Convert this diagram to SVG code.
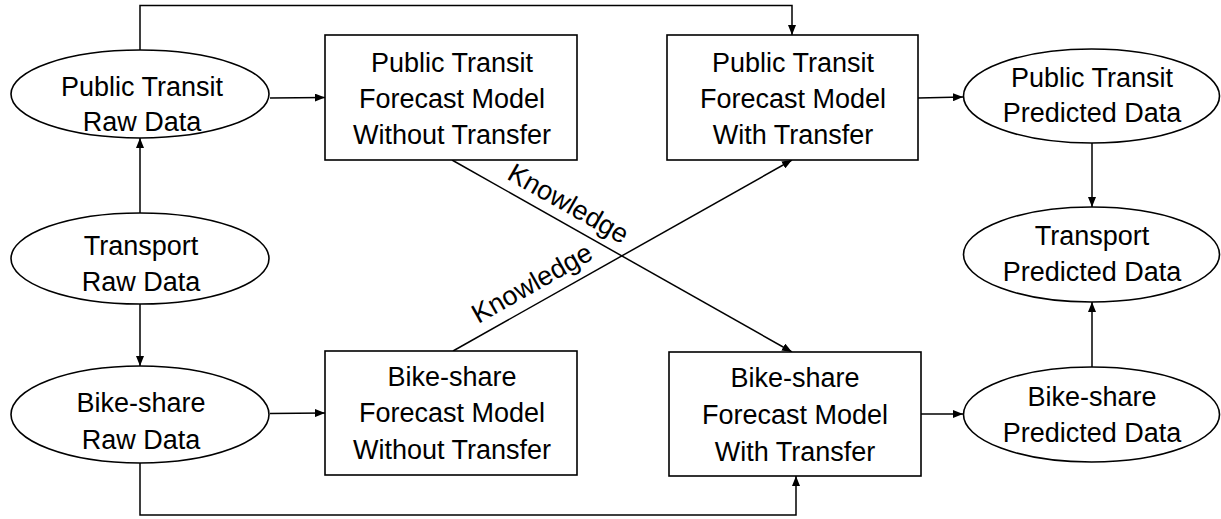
<svg xmlns="http://www.w3.org/2000/svg" width="1221" height="519" viewBox="0 0 1221 519">
<style>
  .node rect, .node ellipse { fill: #fff; stroke: #000; stroke-width: 1.6; }
  .node text, .label { font-family: "Liberation Sans", Arial, sans-serif; font-size: 27px; fill: #000; text-anchor: middle; }
  .conn line, .conn polyline { fill: none; stroke: #000; stroke-width: 1.5; }
  .arrow { marker-end: url(#ah); }
</style>
<defs>
  <marker id="ah" markerUnits="userSpaceOnUse" markerWidth="10" markerHeight="8" viewBox="0 0 10 8" refX="10" refY="4" orient="auto">
    <path d="M0,0 L10,4 L0,8 z" fill="#000"/>
  </marker>
</defs>
<rect width="1221" height="519" fill="#fff"/>

<g id="connectors" class="conn">
  <line class="arrow" x1="270" y1="98" x2="325" y2="97.5"/>
  <line class="arrow" x1="140" y1="213" x2="140" y2="138"/>
  <line class="arrow" x1="140" y1="304" x2="140" y2="366"/>
  <line class="arrow" x1="270" y1="413.5" x2="325" y2="413"/>
  <polyline class="arrow" points="140,50 140,5.5 792,5.5 792,35"/>
  <polyline class="arrow" points="140,463 140,515 796,515 796,476"/>
  <line class="arrow" x1="452" y1="160" x2="792" y2="352"/>
  <line class="arrow" x1="453" y1="351" x2="792" y2="160"/>
  <line class="arrow" x1="918" y1="98" x2="963" y2="97"/>
  <line class="arrow" x1="921" y1="414" x2="963" y2="414"/>
  <line class="arrow" x1="1092" y1="143" x2="1092" y2="207"/>
  <line class="arrow" x1="1092" y1="367" x2="1092" y2="302"/>
  <text class="label" transform="translate(564,211.5) rotate(29.5)">Knowledge</text>
  <text class="label" transform="translate(536.5,291) rotate(-29.5)">Knowledge</text>
</g>

<g id="pt-raw" class="node">
  <ellipse cx="140" cy="94" rx="129" ry="44"/>
  <text x="142" y="96">Public Transit</text>
  <text x="142" y="131">Raw Data</text>
</g>
<g id="transport-raw" class="node">
  <ellipse cx="140" cy="258.5" rx="129" ry="45.5"/>
  <text x="141" y="255">Transport</text>
  <text x="141" y="291">Raw Data</text>
</g>
<g id="bs-raw" class="node">
  <ellipse cx="140" cy="414.5" rx="129" ry="48.5"/>
  <text x="141" y="412">Bike-share</text>
  <text x="141" y="449">Raw Data</text>
</g>

<g id="pt-without" class="node">
  <rect x="325" y="35" width="252" height="125"/>
  <text x="452" y="72">Public Transit</text>
  <text x="452" y="108">Forecast Model</text>
  <text x="452" y="144">Without Transfer</text>
</g>
<g id="bs-without" class="node">
  <rect x="325" y="351" width="252" height="124"/>
  <text x="452" y="386">Bike-share</text>
  <text x="452" y="422">Forecast Model</text>
  <text x="452" y="459">Without Transfer</text>
</g>
<g id="pt-with" class="node">
  <rect x="667" y="35" width="251" height="125"/>
  <text x="793" y="72">Public Transit</text>
  <text x="793" y="108">Forecast Model</text>
  <text x="793" y="144">With Transfer</text>
</g>
<g id="bs-with" class="node">
  <rect x="669" y="352" width="252" height="124"/>
  <text x="795" y="387">Bike-share</text>
  <text x="795" y="424">Forecast Model</text>
  <text x="795" y="461">With Transfer</text>
</g>

<g id="pt-pred" class="node">
  <ellipse cx="1091.5" cy="96" rx="128" ry="47"/>
  <text x="1092" y="87">Public Transit</text>
  <text x="1092" y="122">Predicted Data</text>
</g>
<g id="transport-pred" class="node">
  <ellipse cx="1091.5" cy="254.5" rx="128" ry="47.5"/>
  <text x="1092" y="245">Transport</text>
  <text x="1092" y="281">Predicted Data</text>
</g>
<g id="bs-pred" class="node">
  <ellipse cx="1091.5" cy="414.5" rx="128" ry="47.5"/>
  <text x="1092" y="406">Bike-share</text>
  <text x="1092" y="442">Predicted Data</text>
</g>
</svg>
